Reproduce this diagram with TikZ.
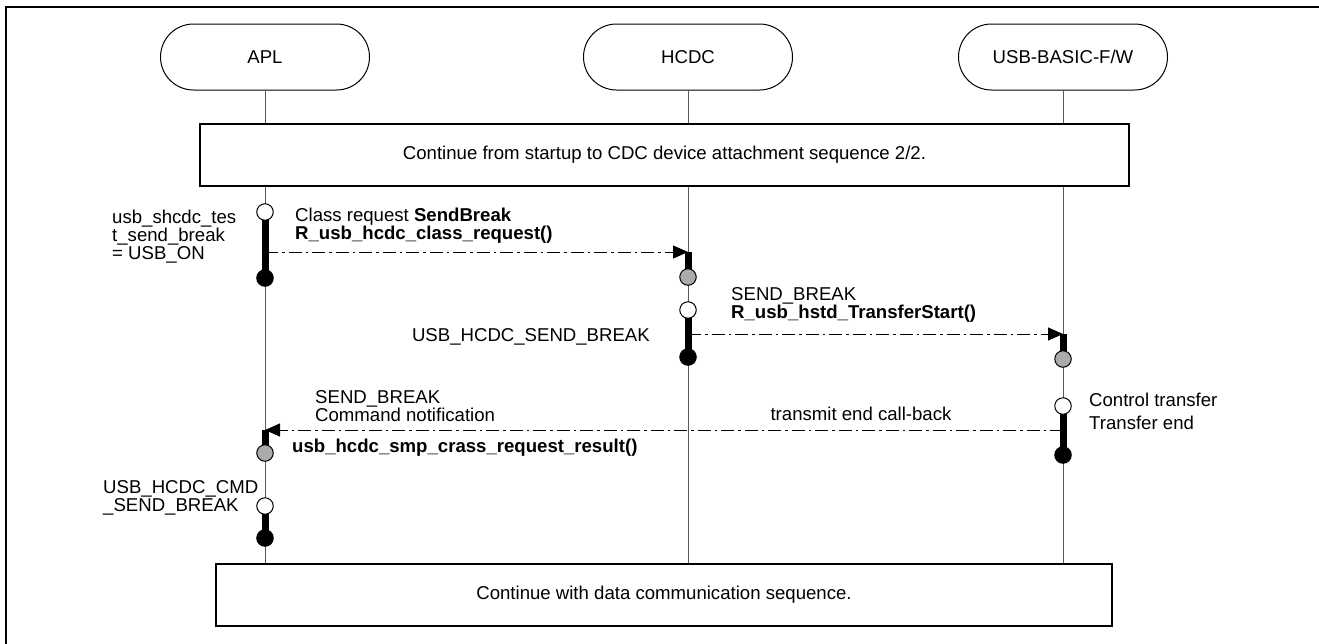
\documentclass[tikz,border=0pt]{standalone}
\usepackage{fontspec}
\setmainfont{Liberation Sans}
\usetikzlibrary{arrows.meta,shapes.misc,backgrounds}
\begin{document}
\begin{tikzpicture}[x=1pt,y=-1pt,
  every node/.style={font=\fontsize{18.6}{18}\selectfont, inner sep=0pt},
  head/.style={draw, line width=1pt, rounded rectangle, minimum width=209pt, minimum height=66pt},
  band/.style={draw, line width=1.3pt, fill=white, rectangle},
  life/.style={draw=black!65, line width=1pt},
  act/.style={line width=7pt},
  ev/.style={circle, draw, line width=1pt, minimum size=16.5pt},
  evopen/.style={ev, fill=white},
  evrecv/.style={ev, fill=black!33},
  evdone/.style={ev, fill=black},
  msg/.style={line width=1pt, dash pattern=on 13pt off 4pt on 2.5pt off 4pt,
    -{Triangle[length=15pt,width=13pt]}},
  lbl/.style={anchor=north west, align=left},
]
\useasboundingbox (0,0) rectangle (1319,643);

% outer frame (runs past the right and bottom edges)
\draw[line width=2.2pt] (1330,7) -- (6,7) -- (6,660);

% lifeline heads
\node[head] (apl)  at (265,57)  {APL};
\node[head] (hcdc) at (688,57)  {HCDC};
\node[head] (fw)   at (1063,57) {USB-BASIC-F/W};

% sequence bands
\node[band, minimum width=929pt, minimum height=62pt] (start) at (664.5,155)
  {Continue from startup to CDC device attachment sequence 2/2.};
\node[band, minimum width=896pt, minimum height=62pt] (cont) at (664,595)
  {Continue with data communication sequence.};

% lifeline end points on the lower band
\coordinate (aplE)  at (apl.south |- cont.north);
\coordinate (hcdcE) at (hcdc.south |- cont.north);
\coordinate (fwE)   at (fw.south |- cont.north);

% events
\node[evopen] (a1) at (265,212) {};
\node[evdone] (a2) at (265,278) {};
\node[evrecv] (h1) at (688,277) {};
\node[evopen] (h2) at (688,310) {};
\node[evdone] (h3) at (688,357) {};
\node[evrecv] (u1) at (1063,359) {};
\node[evopen] (u2) at (1063,406) {};
\node[evdone] (u3) at (1063,455) {};
\node[evrecv] (a3) at (265,453) {};
\node[evopen] (a4) at (265,506) {};
\node[evdone] (a5) at (265,538) {};

% message levels
\coordinate (m1s) at (265,252);
\coordinate (m1e) at (688,252);
\coordinate (m2s) at (688,334);
\coordinate (m2e) at (1063,334);
\coordinate (m3s) at (1063,430);
\coordinate (m3e) at (265,430);

\begin{scope}[on background layer]
  \draw[life] (apl.south) -- (aplE);
  \draw[life] (hcdc.south) -- (hcdcE);
  \draw[life] (fw.south) -- (fwE);
  % activation bars
  \draw[act] (a1.center) -- (a2.center);
  \draw[act] (m1e) -- (h1.center);
  \draw[act] (h2.center) -- (h3.center);
  \draw[act] (m2e) -- (u1.center);
  \draw[act] (u2.center) -- (u3.center);
  \draw[act] (m3e) -- (a3.center);
  \draw[act] (a4.center) -- (a5.center);
\end{scope}

% messages
\draw[msg] (m1s) -- (m1e);
\draw[msg] (m2s) -- (m2e);
\draw[msg] (m3s) -- (m3e);

% labels
\node[lbl] (l1) at (112,209.5) {usb\_shcdc\_tes\\t\_send\_break\\= USB\_ON};
\node[lbl] (l2) at (295,208) {Class request \textbf{SendBreak}\\\textbf{R\_usb\_hcdc\_class\_request()}};
\node[lbl] (l3) at (731,287) {SEND\_BREAK\\\textbf{R\_usb\_hstd\_TransferStart()}};
\node[anchor=base east] (l4) at (650,341.5) {USB\_HCDC\_SEND\_BREAK};
\node[lbl] (l5) at (1089,393) {Control transfer\\[5pt]Transfer end};
\node[anchor=base] (l6) at (861,420) {transmit end call-back};
\node[lbl] (l7) at (315,390) {SEND\_BREAK\\Command notification};
\node[anchor=base west] (l8) at (292,452) {\textbf{usb\_hcdc\_smp\_crass\_request\_result()}};
\node[lbl] (l9) at (103,480) {USB\_HCDC\_CMD\\\_SEND\_BREAK};
\end{tikzpicture}
\end{document}
